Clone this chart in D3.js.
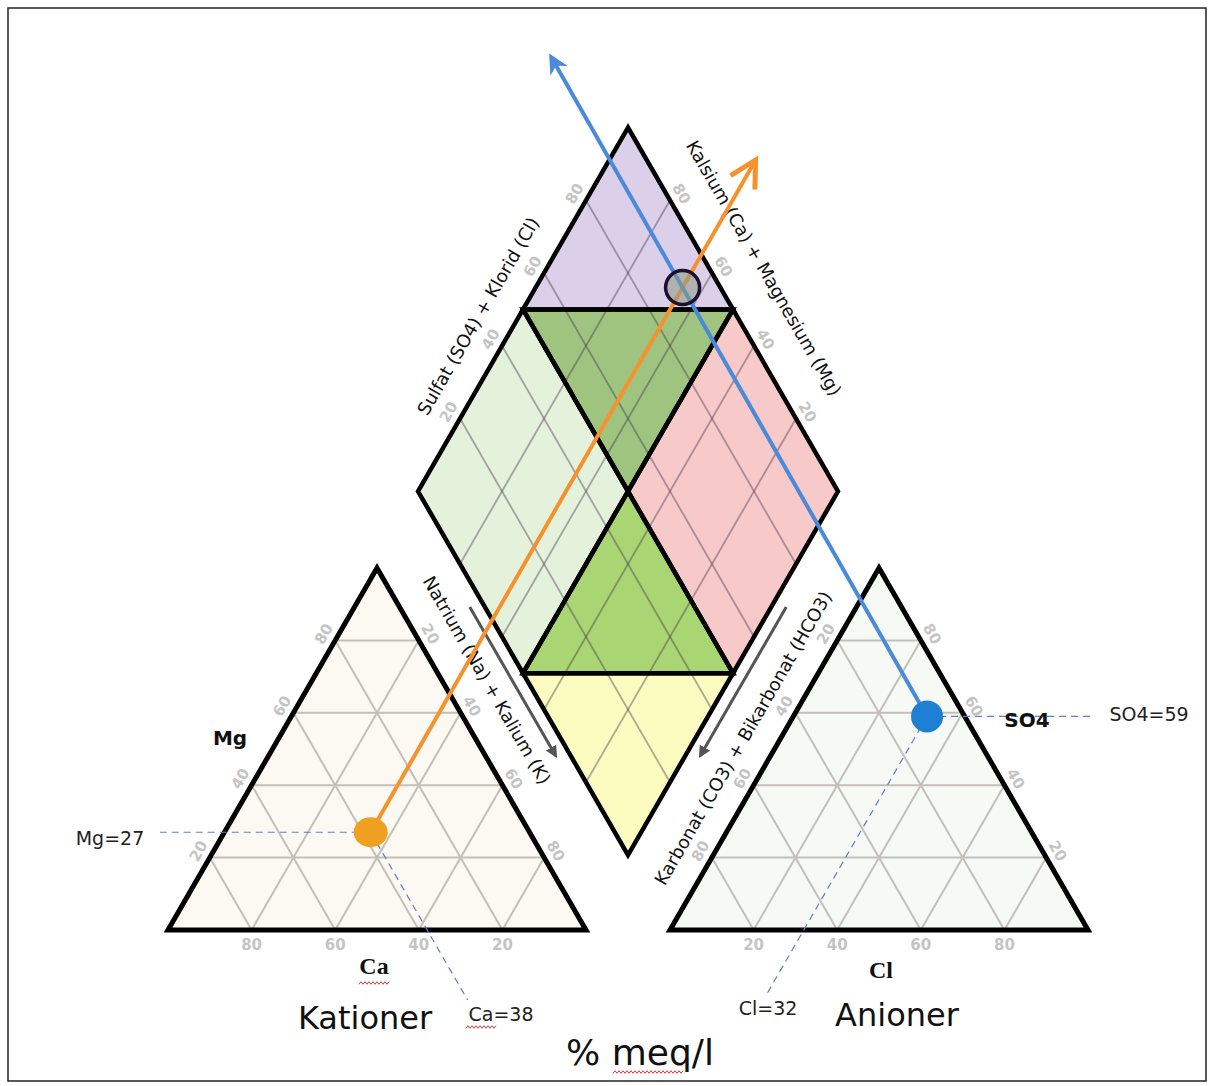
<!DOCTYPE html>
<html><head><meta charset="utf-8">
<script src="https://cdn.jsdelivr.net/npm/d3@7"></script>
<style>body{margin:0;background:#fff}</style>
</head><body><svg id="c" width="1214" height="1086"></svg>
<script>
// ---------------- data ----------------
const tickValues = [20, 40, 60, 80];
const cationNames = ["Ca", "Mg", "Na+K"];
const cationValues = [38, 27, 35];
const anionNames = ["Cl", "SO4", "CO3+HCO3"];
const anionValues = [32, 59, 9];
const zoneNames = ["top", "upperMid", "left", "right", "lowerMid", "bottom"];
const zoneColors = ["#dccfea", "#9fc480", "#e5f2db", "#f8c9c9", "#a9d572", "#fcfbc0"];
const axisTitles = ["Sulfat (SO4) + Klorid (Cl)", "Kalsium (Ca) + Magnesium (Mg)",
                    "Natrium (Na) + Kalium (K)", "Karbonat (CO3) + Bikarbonat (HCO3)"];
const valueLabels = ["Mg=27", "Ca=38", "SO4=59", "Cl=32"];
const groupTitles = ["Kationer", "Anioner"];
const unitLabel = "% meq/l";

// ---------------- layout ----------------
const svg = d3.select("#c");
const SIN = Math.sqrt(3) / 2;
const S = 418;
function makeTri(x0, y0) {
  const x = d3.scaleLinear().domain([0, 100]).range([x0, x0 + S]);
  const y = d3.scaleLinear().domain([0, 100]).range([y0, y0 - S * SIN]);
  return (p, t) => [x(p + t / 2), y(t)];
}
const PL = makeTri(168, 930);
const PR = makeTri(670, 930);
const DB = [628, 855], DS = 420;
const da = d3.scaleLinear().domain([0, 100]).range([0, DS]);
function PD(a, b) { const A = da(a), B = da(b); return [DB[0] + (B - A) * 0.5, DB[1] - (A + B) * SIN]; }

const line = d3.line();
svg.append("rect").attr("x", 8).attr("y", 8).attr("width", 1198).attr("height", 1073)
  .attr("fill", "none").attr("stroke", "#222").attr("stroke-width", 1.5);

const tickStyle = s => s.attr("font-family", "DejaVu Sans").attr("font-weight", "bold")
  .attr("font-size", 15).attr("fill", "#c4c4c4").attr("text-anchor", "middle")
  .attr("dominant-baseline", "central");
function tickLabel(pt, nx, ny, rot, txt, d = 13) {
  svg.append("text").attr("transform", `translate(${pt[0] + nx * d},${pt[1] + ny * d}) rotate(${rot})`)
    .text(txt).call(tickStyle);
}

// ---------------- triangles ----------------
function drawTri(P, fill) {
  const g = svg.append("g");
  g.append("path").attr("d", line([P(0, 0), P(100, 0), P(0, 100)]) + "Z").attr("fill", fill);
  tickValues.forEach(v => {
    [[P(0, v), P(100 - v, v)], [P(v, 0), P(v, 100 - v)], [P(100 - v, 0), P(0, 100 - v)]].forEach(seg =>
      g.append("path").attr("d", line(seg)).attr("stroke", "#c3bfb9").attr("stroke-width", 2).attr("fill", "none"));
  });
  g.append("path").attr("d", line([P(0, 0), P(100, 0), P(0, 100)]) + "Z").attr("fill", "none")
    .attr("stroke", "#000").attr("stroke-width", 5).attr("stroke-linejoin", "miter");
}
drawTri(PL, "#fcf8f2");
drawTri(PR, "#f7faf4");

tickValues.forEach(v => {
  tickLabel(PL(0, v), -0.866, -0.5, -60, v);            // Mg
  tickLabel(PL(v, 100 - v), 0.866, -0.5, 60, v);        // Na+K
  tickLabel(PL(100 - v, 0), 0, 1, 0, v, 15);            // Ca
  tickLabel(PR(100 - v, v), 0.866, -0.5, 60, v);        // SO4
  tickLabel(PR(0, 100 - v), -0.866, -0.5, -60, v);      // CO3+HCO3
  tickLabel(PR(v, 0), 0, 1, 0, v, 15);                  // Cl
  tickLabel(PD(100, v), -0.866, -0.5, -60, v);          // SO4+Cl
  tickLabel(PD(v, 100), 0.866, -0.5, 60, v);            // Ca+Mg
});

// ---------------- diamond ----------------
const zonePolys = {
  top: [[100, 100], [100, 50], [50, 100]],
  upperMid: [[100, 50], [50, 100], [50, 50]],
  left: [[100, 0], [100, 50], [50, 50], [50, 0]],
  right: [[0, 100], [50, 100], [50, 50], [0, 50]],
  lowerMid: [[50, 50], [50, 0], [0, 50]],
  bottom: [[0, 0], [50, 0], [0, 50]]
};
const dg = svg.append("g");
zoneNames.forEach((z, i) => dg.append("path").attr("d", line(zonePolys[z].map(c => PD(c[0], c[1]))) + "Z")
  .attr("fill", zoneColors[i]));
tickValues.forEach(v => {
  [[PD(v, 0), PD(v, 100)], [PD(0, v), PD(100, v)]].forEach(seg =>
    dg.append("path").attr("d", line(seg)).attr("stroke", "rgba(60,45,70,0.4)").attr("stroke-width", 1.8));
});
zoneNames.forEach(z => dg.append("path").attr("d", line(zonePolys[z].map(c => PD(c[0], c[1]))) + "Z")
  .attr("fill", "none").attr("stroke", "#000").attr("stroke-width", 4.5).attr("stroke-linejoin", "miter"));

// ---------------- axis titles ----------------
const titleStyle = s => s.attr("font-family", "DejaVu Sans").attr("font-size", 18).attr("fill", "#111")
  .attr("text-anchor", "middle").attr("dominant-baseline", "central");
[[478, 316, -60], [764, 268, 60], [487, 680, 60], [743, 738, -60]].forEach((p, i) =>
  svg.append("text").attr("transform", `translate(${p[0]},${p[1]}) rotate(${p[2]})`).text(axisTitles[i]).call(titleStyle));

svg.append("defs").html(`
<marker id="ga" viewBox="0 0 10 10" refX="8" refY="5" markerWidth="4" markerHeight="4" orient="auto"><path d="M0,0 L10,5 L0,10 z" fill="#555"/></marker>
<marker id="ba" viewBox="0 0 10 10" refX="8" refY="5" markerWidth="5" markerHeight="5" orient="auto"><path d="M0,0 L10,5 L0,10 L3,5 z" fill="#4a8ad8"/></marker>`);
function edgePt(A, B, f, n, d) { return [A[0] + (B[0] - A[0]) * f + n[0] * d, A[1] + (B[1] - A[1]) * f + n[1] * d]; }
[[PD(100, 0), PD(0, 0), [-0.866, 0.5]], [PD(0, 100), PD(0, 0), [0.866, 0.5]]].forEach(e => {
  svg.append("path").attr("d", line([edgePt(e[0], e[1], 0.30, e[2], 13), edgePt(e[0], e[1], 0.71, e[2], 13)]))
    .attr("stroke", "#555").attr("stroke-width", 3).attr("marker-end", "url(#ga)");
});

// ---------------- points & projections ----------------
const cat = Object.fromEntries(cationNames.map((n, i) => [n, cationValues[i]]));
const ani = Object.fromEntries(anionNames.map((n, i) => [n, anionValues[i]]));
const pC = PL(cat["Na+K"], cat.Mg);
const pA = PR(ani.Cl, ani.SO4);
const pD = PD(cat.Ca + cat.Mg, ani.SO4 + ani.Cl);

const dash = s => s.attr("stroke", "#5b7fc8").attr("stroke-width", 1.2).attr("stroke-dasharray", "7,5").attr("fill", "none");
svg.append("path").attr("d", line([pC, [160, pC[1]]])).call(dash);
svg.append("path").attr("d", line([pC, [pC[0] + (1000 - pC[1]) / 1.732, 1000]])).call(dash);
svg.append("path").attr("d", line([pA, [1090, pA[1]]])).call(dash);
svg.append("path").attr("d", line([pA, [pA[0] - (995 - pA[1]) / 1.732, 995]])).call(dash);

function extendTo(P, Q, yTip) { const k = (yTip - P[1]) / (Q[1] - P[1]); return [P[0] + (Q[0] - P[0]) * k, P[1] + (Q[1] - P[1]) * k]; }
const tipO = extendTo(pC, pD, 160);
const tipB = extendTo(pA, pD, 57);
svg.append("path").attr("d", line([pC, tipO])).attr("stroke", "#f5922e").attr("stroke-width", 4).attr("fill", "none");
(function () {
  const dx = tipO[0] - pC[0], dy = tipO[1] - pC[1], L = Math.hypot(dx, dy), ux = dx / L, uy = dy / L;
  const back = 26, wid = 14;
  const a = [tipO[0] - ux * back - uy * wid, tipO[1] - uy * back + ux * wid];
  const b = [tipO[0] - ux * back + uy * wid, tipO[1] - uy * back - ux * wid];
  svg.append("path").attr("d", line([a, tipO, b])).attr("stroke", "#f5922e").attr("stroke-width", 5)
    .attr("fill", "none").attr("stroke-linejoin", "miter");
})();
svg.append("path").attr("d", line([pA, tipB])).attr("stroke", "#4a8ad8").attr("stroke-width", 4)
  .attr("fill", "none").attr("marker-end", "url(#ba)");

svg.append("circle").attr("cx", pD[0]).attr("cy", pD[1]).attr("r", 17)
  .attr("fill", "rgba(140,155,130,0.55)").attr("stroke", "#1c1030").attr("stroke-width", 3.5);
svg.append("ellipse").attr("cx", pC[0]).attr("cy", pC[1]).attr("rx", 17).attr("ry", 15).attr("fill", "#f0a020");
svg.append("circle").attr("cx", pA[0]).attr("cy", pA[1]).attr("r", 16).attr("fill", "#1f7fd4");

// ---------------- labels ----------------
const txt = (x, y, t, f) => svg.append("text").attr("x", x).attr("y", y).text(t)
  .attr("text-anchor", "middle").attr("dominant-baseline", "central").call(f);
const bold = s => s.attr("font-family", "DejaVu Sans").attr("font-weight", "bold").attr("font-size", 20).attr("fill", "#111");
const serifB = s => s.attr("font-family", "Liberation Serif").attr("font-weight", "bold").attr("font-size", 24).attr("fill", "#111");
const val = s => s.attr("font-family", "DejaVu Sans").attr("font-size", 19).attr("fill", "#222");
const big = s => s.attr("font-family", "DejaVu Sans").attr("font-size", 32).attr("fill", "#111");

txt(230, 738, "Mg", bold);
txt(1027, 720, "SO4", bold);
txt(374, 966, "Ca", serifB);
txt(881, 970, "Cl", serifB);
txt(110, 838, valueLabels[0], val);
txt(501, 1014, valueLabels[1], val);
txt(1149, 714, valueLabels[2], val);
txt(768, 1008, valueLabels[3], val);
txt(365, 1018, groupTitles[0], big);
txt(897, 1015, groupTitles[1], big);
txt(640, 1052, unitLabel, s => s.attr("font-family", "DejaVu Sans").attr("font-size", 36).attr("fill", "#111"));

function squiggle(x0, x1, y) {
  const pts = []; for (let x = x0, k = 0; x <= x1; x += 2, k++) pts.push([x, y + (k % 2 ? -1.3 : 1.3)]);
  svg.append("path").attr("d", line(pts)).attr("stroke", "#d23a3a").attr("stroke-width", 1).attr("fill", "none");
}
squiggle(359, 390, 983);
squiggle(466, 496, 1027);
squiggle(613, 683, 1072);
</script></body></html>
